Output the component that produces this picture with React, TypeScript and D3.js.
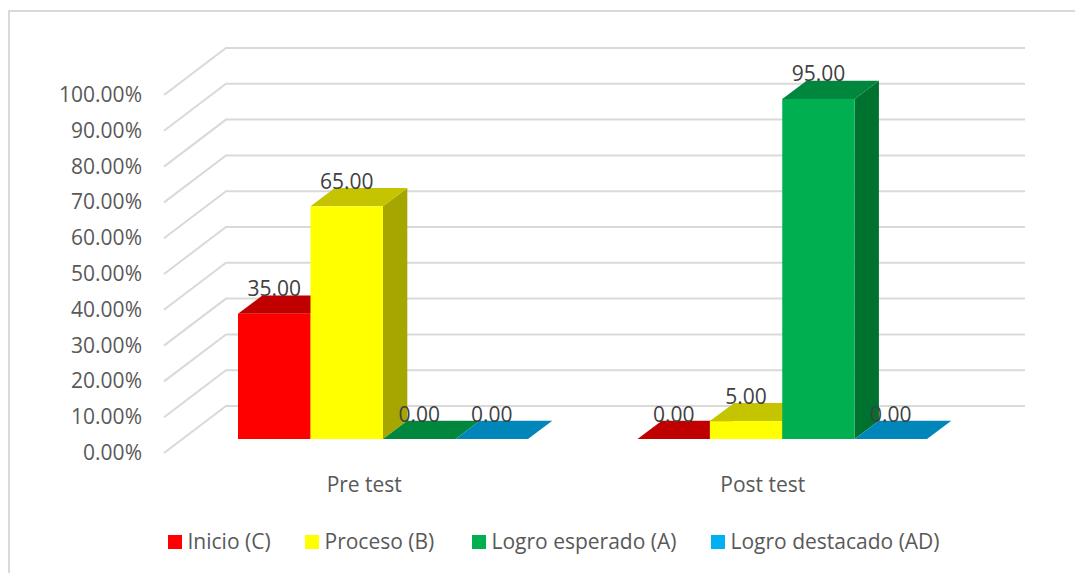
import React from 'react';
import * as d3 from 'd3';

const categories = ['Pre test', 'Post test'];
const seriesNames = ['Inicio (C)', 'Proceso (B)', 'Logro esperado (A)', 'Logro destacado (AD)'];
const preTest = [35, 65, 0, 0];
const postTest = [0, 5, 95, 0];
const tickValues = [0, 10, 20, 30, 40, 50, 60, 70, 80, 90, 100];

const frontColors = ['#ff0000', '#ffff00', '#00b050', '#00b0f0'];
const topColors = ['#c00000', '#c4c400', '#00873d', '#0086b8'];
const sideColors = ['#a80000', '#a6a600', '#00722f', '#006f98'];

const FONT = '"Open Sans", sans-serif';
const GRID = '#d9d9d9';
const TEXT = '#595959';

// wall offset of the 3D box, and the offset of the bars' own depth
const wallDx = 62, wallDy = -47;
const barDx = 24.3, barDy = -18.2;

const y = d3.scaleLinear().domain([0, 100]).range([358, 0]); // height from the 100% front line
const frontTop = 95;
const barBase = 439;
const barY = (v: number) => barBase - (y(0) - y(v));

const xCat = d3.scaleBand().domain(categories).range([165, 962]).paddingInner(0);
const xPre = d3.scaleBand().domain(seriesNames).range([238, 528]);
const xPost = d3.scaleBand().domain(seriesNames).range([637.5, 927]);

const pts = (p: number[][]) => p.map(d => d.join(',')).join(' ');

function Bars({ values, x }: { values: number[]; x: d3.ScaleBand<string> }) {
    const w = x.bandwidth();
    // left to right, each bar covers the side of the one before it
    return <g>
        {values.map((v, i) => {
            const x0 = x(seriesNames[i]) as number;
            const top = barY(v);
            return <g key={i}>
                <polygon fill={sideColors[i]} points={pts([[x0 + w, barBase], [x0 + w + barDx, barBase + barDy], [x0 + w + barDx, top + barDy], [x0 + w, top]])} />
                <polygon fill={topColors[i]} points={pts([[x0, top], [x0 + barDx, top + barDy], [x0 + w + barDx, top + barDy], [x0 + w, top]])} />
                <rect x={x0} y={top} width={w} height={barBase - top} fill={frontColors[i]} />
            </g>;
        })}
    </g>;
}

function Labels({ values, x }: { values: number[]; x: d3.ScaleBand<string> }) {
    const w = x.bandwidth();
    return <g>
        {values.map((v, i) => (
            <text key={i} x={(x(seriesNames[i]) as number) + w / 2} y={barY(v) - 17.5} textAnchor="middle"
                fontFamily={FONT} fontSize={21} fill="#404040">{d3.format('.2f')(v)}</text>
        ))}
    </g>;
}

const legendX = [168, 305, 472, 711];

export default function App() {
    return (
        <svg width={1075} height={573} style={{ position: 'absolute', left: 0, top: 0, background: '#fff' }}>
            <path d="M9,573 V11 H1075" fill="none" stroke={GRID} strokeWidth={2} />

            {tickValues.map(t => {
                const fy = frontTop + y(t);
                return <g key={t}>
                    <polyline fill="none" stroke={GRID} strokeWidth={2}
                        points={pts([[164, fy], [164 + wallDx, fy + wallDy], [1025, fy + wallDy]])} />
                    <text x={142} y={fy + 7} textAnchor="end" fontFamily={FONT} fontSize={21} fill={TEXT}>
                        {d3.format('.2f')(t)}%
                    </text>
                </g>;
            })}

            <Bars values={preTest} x={xPre} />
            <Bars values={postTest} x={xPost} />
            <Labels values={preTest} x={xPre} />
            <Labels values={postTest} x={xPost} />

            {categories.map(c => (
                <text key={c} x={(xCat(c) as number) + xCat.bandwidth() / 2} y={491.5} textAnchor="middle"
                    fontFamily={FONT} fontSize={21} fill={TEXT}>{c}</text>
            ))}

            {seriesNames.map((s, i) => (
                <g key={s}>
                    <rect x={legendX[i]} y={535} width={14} height={14} fill={frontColors[i]} />
                    <text x={legendX[i] + 19.5} y={548.5} fontFamily={FONT} fontSize={21} fill={TEXT}>{s}</text>
                </g>
            ))}
        </svg>
    );
}
